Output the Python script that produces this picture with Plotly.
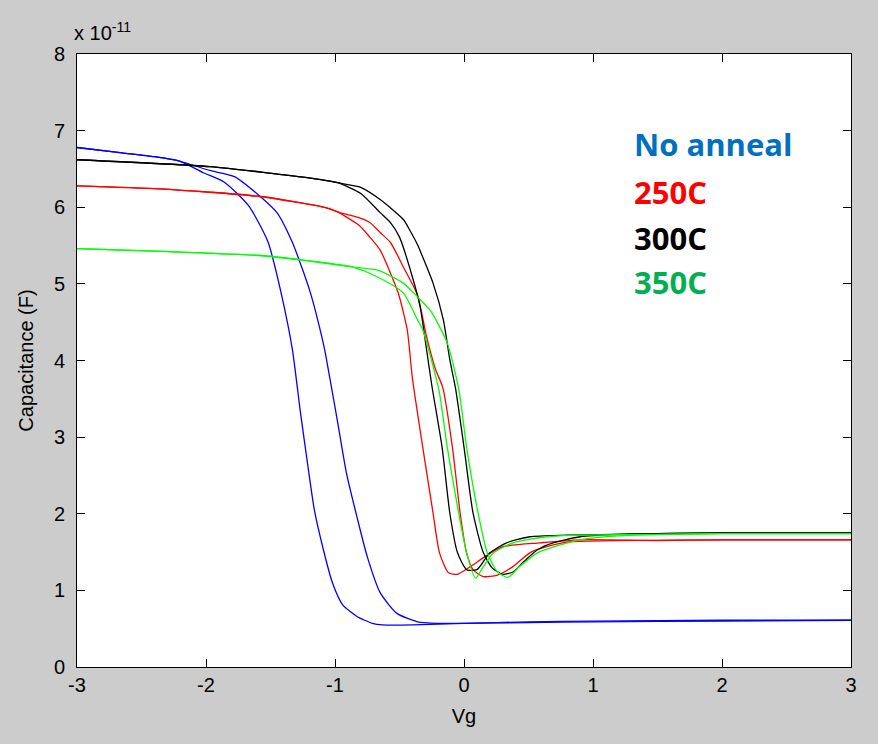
import plotly.graph_objects as go

SCALE = 1e-11  # y values below are in units of 1e-11 F

# ---- No anneal (blue), two sweeps ----
noanneal_a_x = [-3.0, -2.65, -2.4, -2.2, -2.02, -1.86, -1.67, -1.52, -1.42, -1.33, -1.27, -1.21,
                -1.16, -1.09, -1.02, -0.94, -0.83, -0.71, -0.63, -0.4, 0.0, 0.5, 1.0, 2.0, 3.0]
noanneal_a_y = [6.78, 6.71, 6.66, 6.60, 6.45, 6.33, 6.02, 5.55, 4.90, 4.14, 3.35, 2.62,
                2.05, 1.53, 1.10, 0.81, 0.66, 0.57, 0.55, 0.55, 0.57, 0.58, 0.59, 0.60, 0.61]
noanneal_b_x = [-3.0, -2.65, -2.4, -2.2, -1.97, -1.78, -1.60, -1.45, -1.33, -1.25, -1.19, -1.14, -1.08,
                -1.04, -0.98, -0.91, -0.83, -0.75, -0.65, -0.52, -0.36, -0.2, 0.0, 0.5, 1.0, 2.0, 3.0]
noanneal_b_y = [6.78, 6.71, 6.66, 6.60, 6.48, 6.40, 6.17, 5.93, 5.54, 5.18, 4.88, 4.57, 4.14,
                3.77, 3.20, 2.52, 1.96, 1.44, 0.97, 0.70, 0.59, 0.57, 0.57, 0.59, 0.60, 0.61, 0.61]

# ---- 250C (red) ----
c250_a_x = [-3.0, -2.36, -1.58, -1.06, -0.98, -0.81, -0.73, -0.65, -0.51, -0.44, -0.40, -0.32, -0.24,
            -0.19, -0.12, -0.05, 0.05, 0.18, 0.30, 0.59, 0.90, 1.5, 2.0, 3.0]
c250_a_y = [6.28, 6.24, 6.14, 5.99, 5.94, 5.76, 5.61, 5.44, 4.88, 4.40, 3.77, 2.87, 2.01,
            1.49, 1.23, 1.21, 1.31, 1.46, 1.57, 1.62, 1.66, 1.65, 1.66, 1.66]
c250_b_x = [-3.0, -2.36, -1.58, -1.06, -0.98, -0.81, -0.73, -0.65, -0.57, -0.47, -0.36, -0.29, -0.22,
            -0.165, -0.09, -0.03, 0.02, 0.07, 0.15, 0.26, 0.38, 0.51, 0.64, 0.80, 1.2, 2.0, 3.0]
c250_b_y = [6.28, 6.24, 6.14, 5.99, 5.94, 5.86, 5.80, 5.67, 5.54, 5.22, 4.85, 4.31, 3.88,
            3.65, 2.87, 2.01, 1.49, 1.27, 1.18, 1.20, 1.31, 1.49, 1.57, 1.63, 1.65, 1.66, 1.66]

# ---- 300C (black) ----
c300_a_x = [-3.0, -1.97, -1.19, -0.98, -0.80, -0.65, -0.57, -0.50, -0.40, -0.34, -0.29, -0.25, -0.17,
            -0.11, -0.05, 0.02, 0.10, 0.20, 0.33, 0.51, 0.80, 1.5, 2.0, 3.0]
c300_a_y = [6.62, 6.53, 6.38, 6.32, 6.18, 5.93, 5.80, 5.61, 5.09, 4.70, 4.14, 3.68, 2.87,
            2.01, 1.49, 1.27, 1.27, 1.49, 1.62, 1.70, 1.72, 1.74, 1.75, 1.75]
c300_b_x = [-3.0, -1.97, -1.19, -0.98, -0.80, -0.65, -0.47, -0.42, -0.36, -0.32, -0.24, -0.16, -0.11,
            -0.065, 0.0, 0.07, 0.15, 0.22, 0.30, 0.38, 0.46, 0.57, 0.69, 0.90, 1.2, 2.0, 3.0]
c300_b_y = [6.62, 6.53, 6.38, 6.32, 6.26, 6.10, 5.84, 5.70, 5.51, 5.35, 5.01, 4.53, 4.01,
            3.63, 2.87, 2.01, 1.49, 1.29, 1.21, 1.24, 1.37, 1.53, 1.62, 1.70, 1.73, 1.75, 1.75]

# ---- 350C (green) ----
c350_a_x = [-3.0, -2.28, -1.58, -1.25, -0.86, -0.67, -0.47, -0.36, -0.32, -0.195, -0.13, -0.05, 0.02,
            0.09, 0.15, 0.23, 0.38, 0.64, 0.90, 1.5, 2.0, 3.0]
c350_a_y = [5.46, 5.42, 5.37, 5.31, 5.22, 5.09, 4.88, 4.53, 4.40, 3.62, 2.87, 2.09, 1.49,
            1.16, 1.31, 1.49, 1.62, 1.70, 1.72, 1.73, 1.74, 1.74]
c350_b_x = [-3.0, -2.28, -1.58, -1.25, -0.86, -0.67, -0.47, -0.36, -0.26, -0.13, -0.04, 0.02, 0.10,
            0.18, 0.26, 0.34, 0.43, 0.57, 0.74, 0.90, 1.2, 2.0, 3.0]
c350_b_y = [5.46, 5.42, 5.37, 5.31, 5.22, 5.18, 5.01, 4.83, 4.65, 4.23, 3.62, 2.87, 2.09,
            1.49, 1.24, 1.17, 1.31, 1.49, 1.59, 1.66, 1.71, 1.74, 1.74]

x_ticks = [-3, -2, -1, 0, 1, 2, 3]
y_ticks = [0, 1, 2, 3, 4, 5, 6, 7, 8]

legend_labels = ["No anneal", "250C", "300C", "350C"]
legend_colors = ["#0070C0", "#FF0000", "#000000", "#00B050"]
legend_y = [6.83, 6.20, 5.60, 5.03]

series = [
    (noanneal_a_x, noanneal_a_y, "#0000FF"), (noanneal_b_x, noanneal_b_y, "#0000FF"),
    (c250_a_x, c250_a_y, "#FF0000"), (c250_b_x, c250_b_y, "#FF0000"),
    (c300_a_x, c300_a_y, "#000000"), (c300_b_x, c300_b_y, "#000000"),
    (c350_a_x, c350_a_y, "#00FF00"), (c350_b_x, c350_b_y, "#00FF00"),
]

fig = go.Figure()
for xs, ys, col in series:
    fig.add_trace(go.Scatter(x=xs, y=[v * SCALE for v in ys], mode="lines",
                             line=dict(color=col, width=1.3, shape="spline", smoothing=0.6),
                             showlegend=False))

tick_font = dict(family="Liberation Sans, Arial, sans-serif", size=20, color="black")

fig.update_layout(
    width=878, height=744,
    margin=dict(l=77, r=27, t=54, b=77),
    paper_bgcolor="#CCCCCC", plot_bgcolor="white",
    xaxis=dict(range=[-3, 3], tickvals=x_ticks, ticktext=[str(t) for t in x_ticks],
               ticks="inside", ticklen=8, tickcolor="black", showline=True, linecolor="black",
               linewidth=1, mirror="ticks", showgrid=False, zeroline=False, tickfont=tick_font,
               title=dict(text="Vg", font=tick_font, standoff=13)),
    yaxis=dict(range=[0, 8 * SCALE], tickvals=[t * SCALE for t in y_ticks],
               ticktext=[str(t) for t in y_ticks],
               ticks="inside", ticklen=8, tickcolor="black", showline=True, linecolor="black",
               linewidth=1, mirror="ticks", showgrid=False, zeroline=False, tickfont=tick_font,
               ticklabelstandoff=7,
               title=dict(text="Capacitance (F)", font=tick_font, standoff=14)),
)

fig.add_annotation(text="x 10<sup>-11</sup>", xref="paper", yref="paper", x=-0.006, y=1.0,
                   xanchor="left", yanchor="bottom", showarrow=False, yshift=8,
                   font=tick_font)

for lab, col, yy in zip(legend_labels, legend_colors, legend_y):
    fig.add_annotation(text="<b>" + lab + "</b>", x=1.30, y=yy * SCALE, xref="x", yref="y",
                       xanchor="left", yanchor="middle", showarrow=False,
                       font=dict(family="Open Sans, sans-serif", size=31, color=col))

fig.write_html("out.html")
